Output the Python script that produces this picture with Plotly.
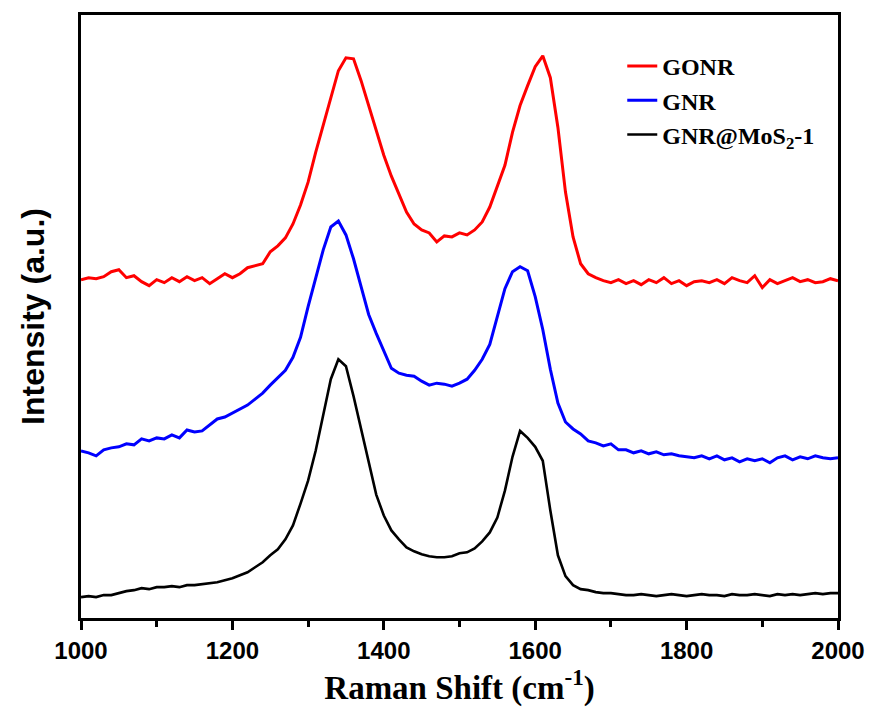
import plotly.graph_objects as go

# Raman shift grid (cm^-1), 10 cm^-1 steps
wavenumber = list(range(1000, 2001, 10))

# Values (pixel row of each curve; converted to height above x-axis)
gonr_px = [278, 276, 277, 275, 270, 268, 276, 274, 280, 284,
           278, 281, 276, 280, 275, 279, 276, 282, 277, 272,
           276, 272, 266, 264, 262, 250, 244, 236, 222, 203,
           180, 150, 123, 96, 68, 55, 56, 78, 103, 128,
           153, 174, 193, 210, 222, 228, 231, 240, 234, 235,
           231, 233, 228, 220, 205, 183, 163, 130, 103, 83,
           64, 53, 75, 125, 190, 235, 262, 272, 276, 279,
           281, 278, 282, 279, 283, 278, 281, 276, 282, 279,
           284, 280, 279, 281, 278, 282, 276, 279, 281, 274,
           286, 278, 282, 279, 276, 280, 278, 281, 280, 277,
           279]
gnr_px = [450, 452, 455, 449, 447, 446, 443, 444, 438, 440,
          437, 438, 434, 437, 429, 431, 430, 424, 418, 416,
          412, 408, 404, 398, 392, 384, 377, 369, 356, 336,
          305, 276, 248, 225, 219, 233, 257, 285, 313, 332,
          350, 367, 372, 374, 375, 380, 384, 382, 383, 385,
          382, 378, 369, 358, 343, 316, 287, 270, 265, 269,
          295, 328, 368, 402, 421, 428, 433, 440, 442, 445,
          443, 449, 449, 452, 450, 453, 451, 454, 453, 455,
          456, 457, 455, 458, 455, 459, 457, 461, 458, 460,
          458, 462, 457, 455, 459, 456, 458, 455, 457, 458,
          457]
mos2_px = [597, 596, 597, 595, 595, 593, 591, 590, 588, 589,
           587, 587, 586, 587, 585, 585, 584, 583, 582, 580,
           578, 575, 572, 567, 562, 555, 549, 539, 525, 503,
           480, 450, 415, 378, 358, 365, 395, 428, 463, 494,
           515, 530, 539, 547, 551, 554, 556, 557, 557, 556,
           553, 552, 548, 541, 532, 517, 490, 456, 430, 437,
           446, 460, 510, 555, 576, 585, 589, 590, 592, 593,
           593, 594, 595, 595, 594, 595, 596, 595, 594, 595,
           596, 595, 594, 595, 595, 596, 594, 595, 595, 594,
           595, 596, 594, 595, 594, 595, 594, 593, 594, 593,
           593]

BASE = 618
gonr = [BASE - v for v in gonr_px]
gnr = [BASE - v for v in gnr_px]
mos2 = [BASE - v for v in mos2_px]

series_names = ["<b>GONR</b>", "<b>GNR</b>", "<b>GNR@MoS<sub>2</sub>-1</b>"]
series_colors = ["#ff0000", "#0000ff", "#000000"]
series_widths = [3, 3, 2.6]
series_values = [gonr, gnr, mos2]

fig = go.Figure()
for name, color, w, vals in zip(series_names, series_colors, series_widths, series_values):
    fig.add_trace(go.Scatter(x=wavenumber, y=vals, mode="lines", name=name,
                             line=dict(color=color, width=w)))

fig.update_layout(
    width=879, height=715,
    margin=dict(l=81, r=41, t=12, b=97),
    plot_bgcolor="white", paper_bgcolor="white",
    showlegend=True,
    legend=dict(x=0.715, y=0.952, xanchor="left", yanchor="top",
                bgcolor="rgba(0,0,0,0)",
                font=dict(family="Liberation Serif, Times New Roman, serif", size=24, color="black"),
                tracegroupgap=0),
)
fig.update_xaxes(
    range=[1000, 2000], showline=True, linecolor="black", linewidth=3, mirror=True,
    ticks="outside", tickwidth=3, ticklen=9, tickcolor="black", dtick=200, tick0=1000,
    minor=dict(ticks="outside", dtick=100, ticklen=6, tickwidth=3, tickcolor="black"),
    showgrid=False, zeroline=False,
    tickfont=dict(family="Liberation Sans, Arial, sans-serif", size=24, color="black", weight="bold"),
    title=dict(text="<b>Raman Shift (cm<sup>-1</sup>)</b>", standoff=8,
               font=dict(family="Liberation Serif, Times New Roman, serif", size=33, color="black")),
)
fig.update_yaxes(
    range=[0, 606], showline=True, linecolor="black", linewidth=3, mirror=True,
    ticks="", showticklabels=False, showgrid=False, zeroline=False,
    title=dict(text="<b>Intensity (a.u.)</b>", standoff=24,
               font=dict(family="Liberation Sans, Arial, sans-serif", size=32, color="black")),
)

fig.write_html("out.html")
